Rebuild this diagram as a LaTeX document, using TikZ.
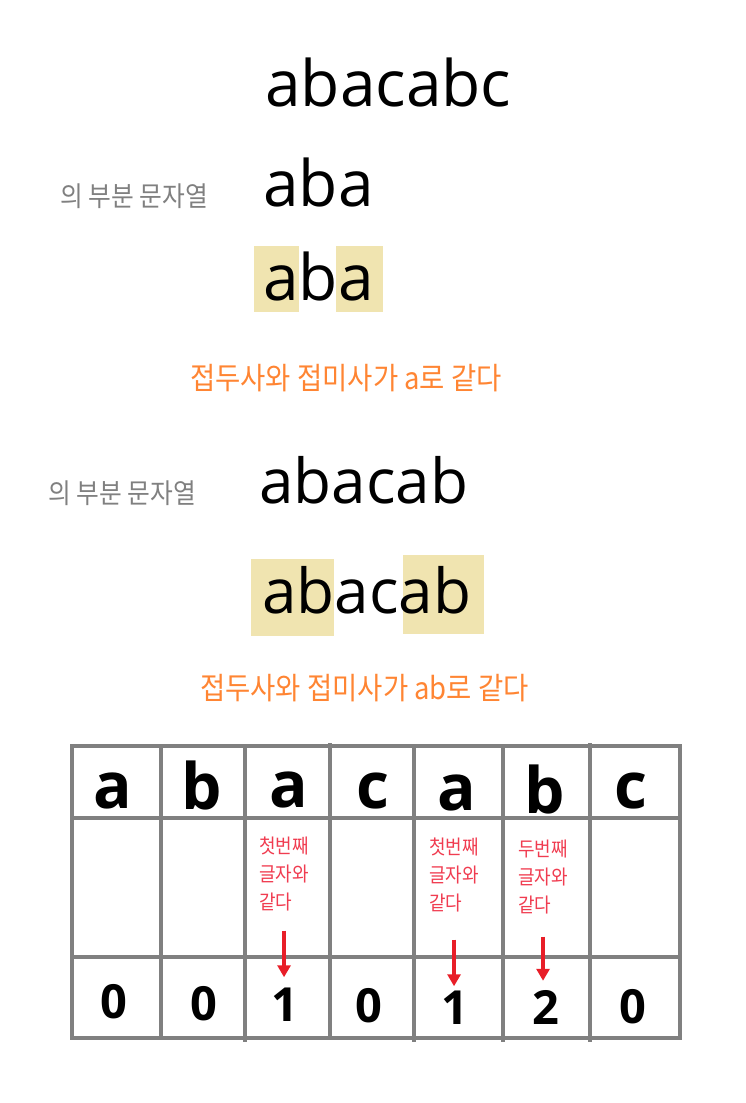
\documentclass[tikz,border=0pt]{standalone}
\usepackage{fontspec}
\setmainfont{Open Sans}
\newfontfamily\krfont[FakeStretch=0.9]{Noto Sans CJK KR}
\usetikzlibrary{arrows.meta,positioning}
\definecolor{gridgray}{RGB}{128,128,128}
\definecolor{hlyellow}{RGB}{240,228,176}
\definecolor{subgray}{RGB}{128,128,128}
\definecolor{noteorange}{RGB}{255,133,51}
\definecolor{notered}{RGB}{240,60,80}
\definecolor{arrowred}{RGB}{232,30,40}
\tikzset{
  word/.style={anchor=base west,inner sep=0pt,font=\fontsize{64}{64}\selectfont},
  subtag/.style={anchor=west,inner sep=0pt,text=subgray,font=\krfont\fontsize{27.5}{27.5}\selectfont},
  result/.style={anchor=west,inner sep=0pt,text=noteorange,font=\krfont\fontsize{30.5}{30.5}\selectfont},
  hl/.style={fill=hlyellow},
  grid line/.style={draw=gridgray,line width=4.5pt},
  letter/.style={anchor=base,inner sep=0pt,font=\bfseries\fontsize{64}{64}\selectfont},
  digit/.style={anchor=base,inner sep=0pt,font=\bfseries\fontsize{47}{47}\selectfont},
  note/.style={anchor=north west,inner sep=0pt,align=left,text=notered,
               font=\krfont\fontsize{20}{28}\selectfont},
  match/.style={-{Triangle[length=12pt,width=13pt]},line width=3.2pt,draw=arrowred},
}

\begin{document}
\begin{tikzpicture}[x=1pt,y=-1pt]
  \useasboundingbox (0,0) rectangle (746,1103);

  % strings and substrings
  \node[word] (full) at (265,106) {abacabc};
  \node[subtag] (tag1) at (60,196) {의 부분 문자열};
  \node[word] (sub1) at (263,206) {aba};
  \fill[hl] (254,246) rectangle (299,312);
  \fill[hl] (336,246) rectangle (383,312);
  \node[word] (mark1) at (263,300) {aba};
  \node[result] (res1) at (190,378) {접두사와 접미사가 a로 같다};

  \node[subtag] (tag2) at (48,493) {의 부분 문자열};
  \node[word,font=\fontsize{62}{62}\selectfont] (sub2) at (259,503) {abacab};
  \fill[hl] (251,559) rectangle (334,636);
  \fill[hl] (403,555) rectangle (484,634);
  \node[word,font=\fontsize{62}{62}\selectfont] (mark2) at (262,613) {abacab};
  \node[result] (res2) at (200,688) {접두사와 접미사가 ab로 같다};

  % table
  \draw[grid line] (72,746) rectangle (680,1038);
  \draw[grid line] (72,818) -- (680,818) (72,957) -- (680,957);
  \draw[grid line] (161,746) -- (161,1038) (245,746) -- (245,1042)
    (330,743) -- (330,1038) (414,746) -- (414,1042)
    (503,746) -- (503,1042) (590,743) -- (590,1042);

  \node[letter] (l1) at (113,808) {a};
  \node[letter] (l2) at (202,809) {b};
  \node[letter] (l3) at (289,807) {a};
  \node[letter] (l4) at (373,808) {c};
  \node[letter] (l5) at (457,810) {a};
  \node[letter] (l6) at (545,813) {b};
  \node[letter] (l7) at (631,808) {c};

  \node[digit] (n1) at (114,1018) {0};
  \node[digit] (n2) at (204,1020) {0};
  \node[digit] (n3) at (285,1021) {1};
  \node[digit] (n4) at (369,1022) {0};
  \node[digit] (n5) at (455,1024) {1};
  \node[digit] (n6) at (546,1024) {2};
  \node[digit] (n7) at (633,1023) {0};

  \node[note] (h3) at (259,837) {첫번째\\글자와\\같다};
  \node[note] (h5) at (429,838) {첫번째\\글자와\\같다};
  \node[note] (h6) at (518,840) {두번째\\글자와\\같다};

  \draw[match] ([yshift=-19pt]h3.south) -- ([yshift=10pt]h3.south |- n3.north);
  \draw[match] ([yshift=-27pt]h5.south) -- ([yshift=4pt]h5.south |- n5.north);
  \draw[match] ([yshift=-22pt]h6.south) -- ([yshift=9pt]h6.south |- n6.north);
\end{tikzpicture}
\end{document}
